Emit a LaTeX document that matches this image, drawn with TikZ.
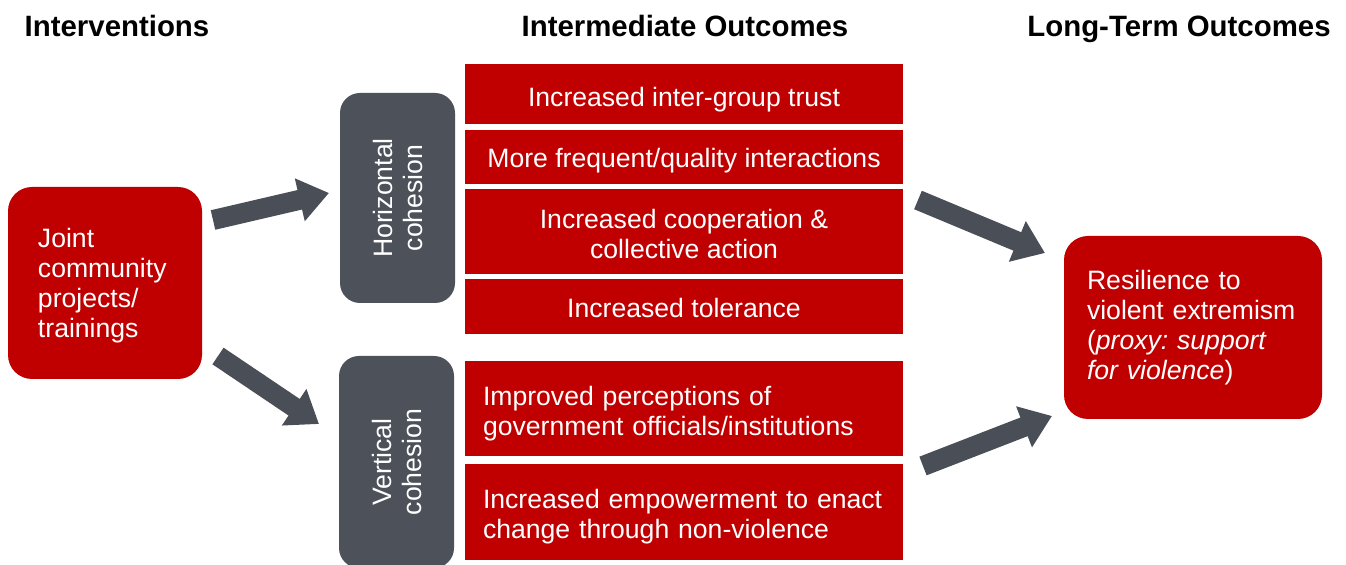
\documentclass[tikz,border=0pt]{standalone}
\usepackage{fontspec}
\setmainfont{Liberation Sans}
\usetikzlibrary{arrows.meta}
\definecolor{boxred}{HTML}{C00000}
\definecolor{boxgrey}{HTML}{4D525A}
\definecolor{arrowgrey}{HTML}{4A4F57}
\frenchspacing
\newcommand\lowertext[2]{\raisebox{-#1}[\height][\depth]{#2}}
\tikzstyle{every node}=[font=\fontsize{13.3}{15}\selectfont,inner sep=0pt]
\tikzstyle{header}=[font=\fontsize{14.7}{17}\selectfont\bfseries,text=black,anchor=base]
\tikzstyle{redbox}=[fill=boxred,text=white,minimum width=219pt,align=center]
\tikzstyle{roundbox}=[fill=boxred,text=white,rounded corners=12pt,align=left]
\tikzstyle{greybox}=[fill=boxgrey,text=white,rounded corners=10pt,rotate=90,align=center,minimum height=57.5pt]
\tikzstyle{blockarrow}=[draw=arrowgrey,line width=10pt,-{Triangle[length=15pt,width=21pt]}]

\begin{document}
\begin{tikzpicture}[x=0.5pt,y=-0.5pt]
  \useasboundingbox (0,0) rectangle (1346,565);
  \node[header] (hint) at (117,37) {Interventions};
  \node[header] (hmid) at (685,37) {Intermediate Outcomes};
  \node[header] (hlong) at (1179,37) {Long-Term Outcomes};

  \node[roundbox,minimum width=97pt,minimum height=96pt,text width=67pt,inner xsep=15pt] (joint) at (105,283)
    {\rule{0pt}{12.7pt}Joint\\community\\projects/\\trainings};

  \node[greybox,minimum width=105pt] (horiz) at (397.5,198) {Horizontal\\cohesion};
  \node[greybox,minimum width=106pt] (vert) at (396.5,462) {Vertical\\cohesion};

  \node[redbox,minimum height=30pt] (trust) at (684,94) {\lowertext{3pt}{Increased inter-group trust}};
  \node[redbox,minimum height=27pt] (inter) at (684,157) {\lowertext{2pt}{More frequent/quality interactions}};
  \node[redbox,minimum height=42.5pt] (coop) at (684,231.5) {\rule{0pt}{11.7pt}Increased cooperation \&\\collective action};
  \node[redbox,minimum height=27.5pt] (toler) at (684,306.5) {\lowertext{1pt}{Increased tolerance}};
  \node[redbox,minimum height=47.5pt,align=left,text width=201pt,inner xsep=9pt] (percep) at (684,408.5)
    {\rule{0pt}{14.7pt}Improved perceptions of\\government officials/institutions};
  \node[redbox,minimum height=48pt,align=left,text width=201pt,inner xsep=9pt] (empow) at (684,512)
    {\rule{0pt}{14.7pt}Increased empowerment to enact\\change through non-violence};

  \node[roundbox,minimum width=129pt,minimum height=91.5pt,text width=106pt,inner xsep=11.5pt] (resil) at (1193,327.5)
    {Resilience to\\violent extremism\\(\textit{proxy: support}\\\textit{for violence})};

  \coordinate (a1s) at (213,220);
  \coordinate (a1e) at (329,193);
  \coordinate (a2s) at (218,356);
  \coordinate (a2e) at (319,424);
  \coordinate (a3s) at (918,200);
  \coordinate (a3e) at (1045,253);
  \coordinate (a4s) at (923,466);
  \coordinate (a4e) at (1052,416);
  \draw[blockarrow] (a1s) -- (a1e);
  \draw[blockarrow] (a2s) -- (a2e);
  \draw[blockarrow] (a3s) -- (a3e);
  \draw[blockarrow] (a4s) -- (a4e);
\end{tikzpicture}
\end{document}
